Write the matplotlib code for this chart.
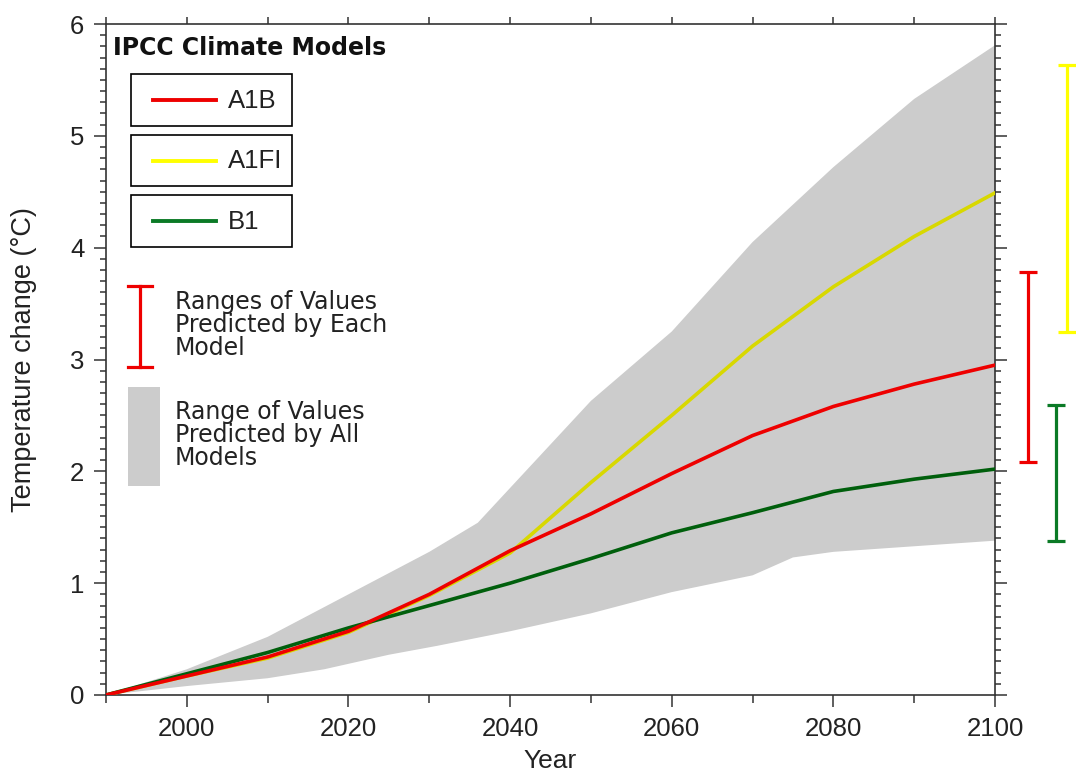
import matplotlib.pyplot as plt
import numpy as np
from matplotlib.patches import Rectangle
from matplotlib.lines import Line2D

# ------------------------
# Data
# ------------------------
years = [1990, 2000, 2010, 2020, 2030, 2040, 2050, 2060, 2070, 2080, 2090, 2100]
a1b = [0, 0.17, 0.34, 0.57, 0.90, 1.29, 1.62, 1.98, 2.32, 2.58, 2.78, 2.95]
a1fi = [0, 0.17, 0.33, 0.56, 0.89, 1.27, 1.90, 2.50, 3.12, 3.65, 4.10, 4.49]
b1 = [0, 0.19, 0.38, 0.60, 0.80, 1.00, 1.22, 1.45, 1.63, 1.82, 1.93, 2.02]

# range of all models (grey envelope)
upper_years = [1990, 2000, 2010, 2020, 2030, 2036, 2050, 2060, 2070, 2080, 2090, 2100]
upper = [0, 0.23, 0.52, 0.90, 1.28, 1.54, 2.63, 3.25, 4.05, 4.72, 5.33, 5.81]
lower_years = [1990, 2000, 2010, 2017, 2025, 2031, 2040, 2050, 2060, 2070, 2075, 2080, 2090, 2100]
lower = [0, 0.08, 0.15, 0.23, 0.36, 0.44, 0.57, 0.73, 0.92, 1.07, 1.23, 1.28, 1.33, 1.38]

# ranges predicted by each model in 2100
scenarios = ['A1B', 'A1FI', 'B1']
range_low = [2.08, 3.25, 1.38]
range_high = [3.78, 5.63, 2.59]

# ------------------------
# Styles
# ------------------------
RED = '#ee0000'
YELLOW_LINE = '#d8d800'
YELLOW = '#ffff00'
GREEN_LINE = '#005f0c'
GREEN = '#0b7a26'
GREY = '#cccccc'
AX_COL = '#333333'
SANS = 'Liberation Sans'

W, H = 1076, 774
fig = plt.figure(figsize=(W / 100, H / 100), dpi=100)
ax = fig.add_axes([106 / W, 1 - 695 / H, (995 - 106) / W, (695 - 24) / H])


def fxy(px, py):
    # pixel (from top-left) -> figure fraction
    return px / W, 1 - py / H


# grey envelope
ax.fill(np.concatenate([upper_years, lower_years[::-1]]),
        np.concatenate([upper, lower[::-1]]),
        color=GREY, lw=0, zorder=1)

ax.plot(years, a1fi, color=YELLOW_LINE, lw=2.6, zorder=3)
ax.plot(years, b1, color=GREEN_LINE, lw=2.6, zorder=3)
ax.plot(years, a1b, color=RED, lw=2.6, zorder=4)

# error bars to the right of the axes
bar_x = [2104.1, 2108.9, 2107.5]
bar_cols = [RED, YELLOW, GREEN]
for x, lo, hi, c in zip(bar_x, range_low, range_high, bar_cols):
    eb = ax.errorbar([x], [(lo + hi) / 2], yerr=[(hi - lo) / 2], fmt='none',
                     ecolor=c, elinewidth=2.3, capsize=6.5, capthick=2.3)
    for art in eb.get_children():
        art.set_clip_on(False)

ax.set_xlim(1990, 2100)
ax.set_ylim(0, 6)
ax.set_xticks(range(2000, 2101, 20))
ax.set_xticks(range(1990, 2101, 10), minor=True)
ax.set_yticks(range(0, 7))
ax.set_yticks(np.arange(0, 6.01, 0.1), minor=True)

for s in ax.spines.values():
    s.set_color(AX_COL)
    s.set_linewidth(1.2)

ax.tick_params(which='both', direction='out', color=AX_COL, width=1.1,
               left=True, right=True, bottom=True, top=False)
ax.tick_params(which='major', length=8.5)
ax.tick_params(which='minor', length=4.3)
ax.tick_params(axis='x', which='minor', length=5.5)
ax.tick_params(axis='x', pad=7)
ax.tick_params(axis='y', pad=7)

top = ax.secondary_xaxis('top')
top.set_xticks(range(1990, 2101, 10))
top.set_xticklabels([])
top.tick_params(direction='out', length=5, width=1.1, color=AX_COL)
top.spines['top'].set_visible(False)

for lab in ax.get_xticklabels() + ax.get_yticklabels():
    lab.set_fontfamily(SANS)
    lab.set_fontsize(18.5)
    lab.set_color('#222222')

ax.set_xlabel('Year', fontfamily=SANS, fontsize=19, color='#222222', labelpad=6)
ax.set_ylabel('Temperature change (°C)', fontfamily=SANS, fontsize=19.5,
              color='#222222', labelpad=24)

# ------------------------
# Legend (drawn by hand like the original)
# ------------------------
fig.text(*fxy(113, 48), 'IPCC Climate Models', fontfamily='DejaVu Sans',
         fontweight='bold', fontsize=17, va='center', ha='left', color='#111111')

legend_cols = [RED, YELLOW, GREEN]
box_tops = [74, 135, 195]
box_bots = [126, 186, 247]
for name, c, bt, bb in zip(scenarios, legend_cols, box_tops, box_bots):
    x0, y0 = fxy(131, bb)
    fig.patches.append(Rectangle((x0, y0), (292 - 131) / W, (bb - bt) / H,
                                 transform=fig.transFigure, fill=False,
                                 edgecolor='black', lw=1.2))
    yc = (bt + bb) / 2
    fig.lines.append(Line2D([153 / W, 216 / W], [1 - yc / H] * 2,
                            transform=fig.transFigure, color=c, lw=2.8))
    fig.text(*fxy(228, yc + 1), name, fontfamily=SANS, fontsize=18.5,
             va='center', ha='left', color='#222222')

# range-per-model symbol
fig.lines.append(Line2D([140 / W] * 2, [1 - 286 / H, 1 - 367 / H],
                        transform=fig.transFigure, color=RED, lw=2.3))
for py in (286, 367):
    fig.lines.append(Line2D([128 / W, 152 / W], [1 - py / H] * 2,
                            transform=fig.transFigure, color=RED, lw=2.3))
fig.text(*fxy(175, 325), 'Ranges of Values\nPredicted by Each\nModel',
         fontfamily='DejaVu Sans', fontsize=17, linespacing=0.97,
         va='center', ha='left', color='#222222')

# range-of-all-models symbol
x0, y0 = fxy(128, 486)
fig.patches.append(Rectangle((x0, y0), 32 / W, 99 / H, transform=fig.transFigure,
                             color=GREY, lw=0))
fig.text(*fxy(175, 435), 'Range of Values\nPredicted by All\nModels',
         fontfamily='DejaVu Sans', fontsize=17, linespacing=0.97,
         va='center', ha='left', color='#222222')

fig.savefig('out.png', dpi=100)
